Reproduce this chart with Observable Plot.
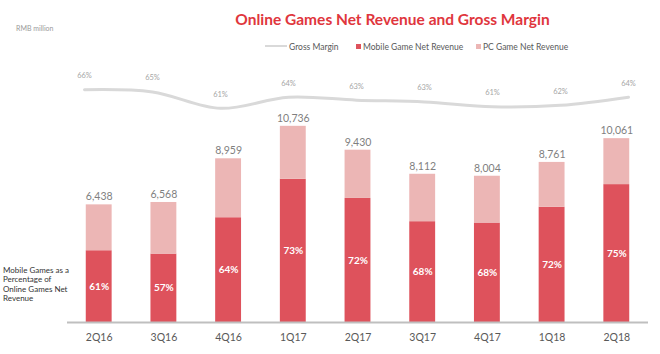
<!DOCTYPE html>
<html>
<head>
<meta charset="utf-8">
<script src="https://cdn.jsdelivr.net/npm/d3@7"></script>
<script src="https://cdn.jsdelivr.net/npm/@observablehq/plot@0.6"></script>
<style>
  html, body { margin: 0; padding: 0; background: #fff; }
  #chart { position: relative; width: 660px; height: 354px; overflow: hidden; font-family: Lato, "Open Sans", sans-serif; }
  #chart svg { position: absolute; left: 0; top: 0; }
  .abs { position: absolute; white-space: nowrap; }
  #title { left: 0; width: 785px; top: 10px; text-align: center; font-size: 15.5px; font-weight: 700; color: #e0363d; }
  #unit { left: 16px; top: 24px; font-size: 7px; color: #9a9a9a; }
  .leg { top: 42px; font-size: 8.5px; color: #595959; line-height: 10px; }
  .sw { display: inline-block; width: 5px; height: 5px; margin-right: 2px; vertical-align: 1px; }
  .ln { display: inline-block; width: 22px; height: 2px; background: #d9d9d9; margin-right: 2px; vertical-align: 3px; }
  #note { left: 3px; top: 266px; font-size: 8px; line-height: 9.3px; color: #333; white-space: normal; width: 68px; }
</style>
</head>
<body>
<div id="chart">
  <div id="title" class="abs">Online Games Net Revenue and Gross Margin</div>
  <div id="unit" class="abs">RMB million</div>
  <div class="abs leg" style="left:265px"><span class="ln"></span>Gross Margin</div>
  <div class="abs leg" style="left:356px"><span class="sw" style="background:#de525c"></span>Mobile Game Net Revenue</div>
  <div class="abs leg" style="left:476px"><span class="sw" style="background:#ecb6b5"></span>PC Game Net Revenue</div>
  <div id="note" class="abs">Mobile Games as a<br>Percentage of<br>Online Games Net<br>Revenue</div>
</div>
<script>
const quarters = ["2Q16", "3Q16", "4Q16", "1Q17", "2Q17", "3Q17", "4Q17", "1Q18", "2Q18"];
const totalRevenue = [6438, 6568, 8959, 10736, 9430, 8112, 8004, 8761, 10061];
const mobileShare = [61, 57, 64, 73, 72, 68, 68, 72, 75];
const grossMargin = [66.0, 65.4, 61.0, 64.0, 63.2, 62.7, 61.4, 61.8, 64.0];

const mobileColor = "#de525c";
const pcColor = "#ecb6b5";

const rows = quarters.map((q, i) => ({
  q,
  total: totalRevenue[i],
  share: mobileShare[i],
  mobile: totalRevenue[i] * mobileShare[i] / 100,
  margin: grossMargin[i]
}));

const fmt = d3.format(",");

const main = Plot.plot({
  width: 660,
  height: 354,
  marginLeft: 67,
  marginRight: 12,
  marginTop: 121,
  marginBottom: 32,
  style: { fontFamily: "Lato, 'Open Sans', sans-serif", background: "transparent" },
  x: { domain: quarters, paddingInner: 0.6, paddingOuter: 0.29, round: false, label: null, tickSize: 0, tickPadding: 11 },
  y: { domain: [0, 11000], axis: null },
  marks: [
    Plot.barY(rows, { x: "q", y1: 0, y2: "mobile", fill: mobileColor }),
    Plot.barY(rows, { x: "q", y1: "mobile", y2: "total", fill: pcColor }),
    Plot.ruleY([0], { stroke: "#bfbfbf", strokeWidth: 2 }),
    Plot.text(rows, { x: "q", y: "total", text: d => fmt(d.total), dy: -8, fill: "#7f7f7f", fontSize: 10.5 }),
    Plot.text(rows, { x: "q", y: d => d.mobile / 2, text: d => d.share + "%", fill: "#fff", fontWeight: "bold", fontSize: 10 })
  ]
});
const xAxis = main.querySelector("g[aria-label='x-axis tick label']");
if (xAxis) { xAxis.setAttribute("fill", "#595959"); xAxis.setAttribute("font-size", "10.5"); }

const overlay = Plot.plot({
  width: 660,
  height: 124,
  marginLeft: 83.5,
  marginRight: 31,
  marginTop: 81.8,
  marginBottom: 5,
  style: { fontFamily: "Lato, 'Open Sans', sans-serif", background: "transparent", pointerEvents: "none" },
  x: { type: "point", domain: quarters, padding: 0, axis: null },
  y: { domain: [58, 68], axis: null },
  marks: [
    Plot.line(rows, { x: "q", y: "margin", curve: "catmull-rom", stroke: "#d9d9d9", strokeWidth: 3 }),
    Plot.text(rows, { x: "q", y: "margin", text: d => Math.round(d.margin) + "%", dy: -14, fill: "#a6a6a6", fontSize: 7.5 })
  ]
});

const chart = document.getElementById("chart");
chart.appendChild(main);
chart.appendChild(overlay);
</script>
</body>
</html>
